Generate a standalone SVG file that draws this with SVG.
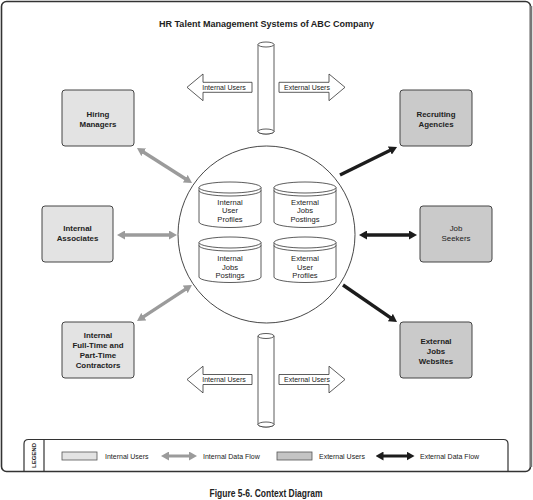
<svg xmlns="http://www.w3.org/2000/svg" width="533" height="500" viewBox="0 0 533 500">
<style>
text{font-family:"Liberation Sans",Arial,sans-serif;fill:#222}
.box{stroke:#444;stroke-width:1}
.int{fill:#e3e3e3}
.ext{fill:#cacaca}
.bt{font-size:7.9px;font-weight:bold;text-anchor:middle}
.nw{font-weight:normal}
.ct{font-size:7.6px;text-anchor:middle}
.lt{font-size:7px}
.cyl{fill:#fff;stroke:#333;stroke-width:0.8}
.ga{stroke:#9b9b9b;stroke-width:3.4;fill:none}
.ba{stroke:#1c1c1c;stroke-width:3.4;fill:none}
.blk{fill:#fff;stroke:#333;stroke-width:0.8}
</style>
<defs>
<marker id="hg" viewBox="0 0 8 9" refX="0.5" refY="4.5" markerWidth="8" markerHeight="9" markerUnits="userSpaceOnUse" orient="auto-start-reverse"><path d="M0,0 L8,4.5 L0,9 z" fill="#9b9b9b"/></marker>
<marker id="hb" viewBox="0 0 8 9" refX="0.5" refY="4.5" markerWidth="8" markerHeight="9" markerUnits="userSpaceOnUse" orient="auto-start-reverse"><path d="M0,0 L8,4.5 L0,9 z" fill="#1c1c1c"/></marker>
<g id="dbshape">
<path d="M0,5.5 L0,40 A31,5.5 0 0 0 62,40 L62,5.5" class="cyl"/>
<ellipse cx="31" cy="5.5" rx="31" ry="5.5" class="cyl"/>
<path d="M0,8.5 A31,5.5 0 0 0 62,8.5" fill="none" stroke="#333" stroke-width="0.8"/>
</g>
</defs>

<g id="frame">
<rect x="1.5" y="1.5" width="529" height="470" rx="5" fill="#fff" stroke="#333" stroke-width="1.6"/>
<line x1="531" y1="6" x2="531" y2="467" stroke="#777" stroke-width="2.5"/>
</g>

<text id="title" x="266.5" y="27" font-size="8.6" font-weight="bold" text-anchor="middle" textLength="215" lengthAdjust="spacingAndGlyphs">HR Talent Management Systems of ABC Company</text>

<g id="pipe-top">
<path d="M258,44.5 L258,131.5 A8,2.5 0 0 0 274,131.5 L274,44.5" class="cyl"/>
<ellipse cx="266" cy="44.5" rx="8" ry="2.5" class="cyl"/>
<ellipse cx="266" cy="131.5" rx="8" ry="2.5" class="cyl"/>
</g>
<g id="pipe-bottom">
<path d="M258,336 L258,424.5 A8,2.5 0 0 0 274,424.5 L274,336" class="cyl"/>
<ellipse cx="266" cy="336" rx="8" ry="2.5" class="cyl"/>
<ellipse cx="266" cy="424.5" rx="8" ry="2.5" class="cyl"/>
</g>

<g id="user-arrows">
<g id="ua-top-int">
<polygon points="187,87.3 203,74 203,82.3 252,82.3 252,92.3 203,92.3 203,100.7" class="blk"/>
<text x="224" y="89.8" class="lt" text-anchor="middle">Internal Users</text>
</g>
<g id="ua-top-ext">
<polygon points="279,82.3 329,82.3 329,74 345,87.3 329,100.7 329,92.3 279,92.3" class="blk"/>
<text x="307" y="89.8" class="lt" text-anchor="middle">External Users</text>
</g>
<g id="ua-bot-int">
<polygon points="187,379.5 203,366.2 203,374.5 252,374.5 252,384.5 203,384.5 203,392.9" class="blk"/>
<text x="224" y="382" class="lt" text-anchor="middle">Internal Users</text>
</g>
<g id="ua-bot-ext">
<polygon points="279,374.5 329,374.5 329,366.2 345,379.5 329,392.9 329,384.5 279,384.5" class="blk"/>
<text x="307" y="382" class="lt" text-anchor="middle">External Users</text>
</g>
</g>

<g id="connectors">
<line x1="143.3" y1="152.0" x2="185.7" y2="179.0" class="ga" marker-start="url(#hg)" marker-end="url(#hg)"/>
<line x1="124.5" y1="235" x2="169.5" y2="235" class="ga" marker-start="url(#hg)" marker-end="url(#hg)"/>
<line x1="185.7" y1="289.1" x2="143.3" y2="316.9" class="ga" marker-start="url(#hg)" marker-end="url(#hg)"/>
<line x1="340" y1="175" x2="390.3" y2="150.3" class="ba" marker-end="url(#hb)"/>
<line x1="366.5" y1="235" x2="409.5" y2="235" class="ba" marker-start="url(#hb)" marker-end="url(#hb)"/>
<line x1="343" y1="285" x2="390.8" y2="317.8" class="ba" marker-end="url(#hb)"/>
</g>

<g id="system">
<circle cx="266.5" cy="234.5" r="88.5" fill="#fff" stroke="#333" stroke-width="0.9"/>
<g id="db-int-profiles" transform="translate(199,182)">
<use href="#dbshape"/>
<text class="ct" x="31" y="22.5">Internal</text>
<text class="ct" x="31" y="31">User</text>
<text class="ct" x="31" y="39.5">Profiles</text>
</g>
<g id="db-ext-postings" transform="translate(274,182)">
<use href="#dbshape"/>
<text class="ct" x="31" y="22.5">External</text>
<text class="ct" x="31" y="31">Jobs</text>
<text class="ct" x="31" y="39.5">Postings</text>
</g>
<g id="db-int-postings" transform="translate(199,237)">
<use href="#dbshape"/>
<text class="ct" x="31" y="24">Internal</text>
<text class="ct" x="31" y="32.5">Jobs</text>
<text class="ct" x="31" y="41">Postings</text>
</g>
<g id="db-ext-profiles" transform="translate(274,237)">
<use href="#dbshape"/>
<text class="ct" x="31" y="24">External</text>
<text class="ct" x="31" y="32.5">User</text>
<text class="ct" x="31" y="41">Profiles</text>
</g>
</g>

<g id="hiring-managers">
<rect x="62" y="90" width="72" height="56" rx="3" class="box int"/>
<text class="bt" x="98" y="116.5">Hiring</text>
<text class="bt" x="98" y="127">Managers</text>
</g>
<g id="recruiting-agencies">
<rect x="400" y="90" width="72" height="56" rx="3" class="box ext"/>
<text class="bt" x="436" y="116.5">Recruiting</text>
<text class="bt" x="436" y="127">Agencies</text>
</g>
<g id="internal-associates">
<rect x="42" y="206" width="71" height="56" rx="3" class="box int"/>
<text class="bt" x="77.5" y="231">Internal</text>
<text class="bt" x="77.5" y="240.8">Associates</text>
</g>
<g id="job-seekers">
<rect x="420" y="206" width="72" height="56" rx="3" class="box ext"/>
<text class="bt nw" x="456" y="231">Job</text>
<text class="bt nw" x="456" y="240.8">Seekers</text>
</g>
<g id="contractors">
<rect x="62" y="322" width="72" height="56" rx="3" class="box int"/>
<text class="bt" x="98" y="337.5">Internal</text>
<text class="bt" x="98" y="347.5">Full-Time and</text>
<text class="bt" x="98" y="357.5">Part-Time</text>
<text class="bt" x="98" y="367.5">Contractors</text>
</g>
<g id="external-jobs-websites">
<rect x="400" y="322" width="72" height="56" rx="3" class="box ext"/>
<text class="bt" x="436" y="343.5">External</text>
<text class="bt" x="436" y="353.5">Jobs</text>
<text class="bt" x="436" y="363.5">Websites</text>
</g>

<g id="legend">
<path d="M24,471 V444 Q24,439.5 28.5,439.5 H503.5 Q508,439.5 508,444 V471" fill="none" stroke="#333" stroke-width="1.2"/>
<line x1="44" y1="439.5" x2="44" y2="471" stroke="#333" stroke-width="1.2"/>
<text transform="translate(36.3,455.5) rotate(-90)" font-size="6" font-weight="bold" text-anchor="middle">LEGEND</text>
<rect x="62" y="452" width="35" height="8" fill="#e3e3e3" stroke="#555" stroke-width="0.8"/>
<text class="lt" x="105" y="458.5">Internal Users</text>
<line x1="168.5" y1="456" x2="189.5" y2="456" stroke="#9b9b9b" stroke-width="3" marker-start="url(#hg)" marker-end="url(#hg)"/>
<text class="lt" x="203" y="458.5">Internal Data Flow</text>
<rect x="277" y="452" width="35" height="8" fill="#c4c4c4" stroke="#555" stroke-width="0.8"/>
<text class="lt" x="319" y="458.5">External Users</text>
<line x1="383" y1="456" x2="407" y2="456" stroke="#1c1c1c" stroke-width="3" marker-start="url(#hb)" marker-end="url(#hb)"/>
<text class="lt" x="420" y="458.5">External Data Flow</text>
</g>

<text id="caption" x="266" y="497" font-family="'Liberation Sans Narrow','Liberation Sans',sans-serif" font-size="10" font-weight="bold" text-anchor="middle" textLength="113" lengthAdjust="spacingAndGlyphs">Figure 5-6. Context Diagram</text>
</svg>
